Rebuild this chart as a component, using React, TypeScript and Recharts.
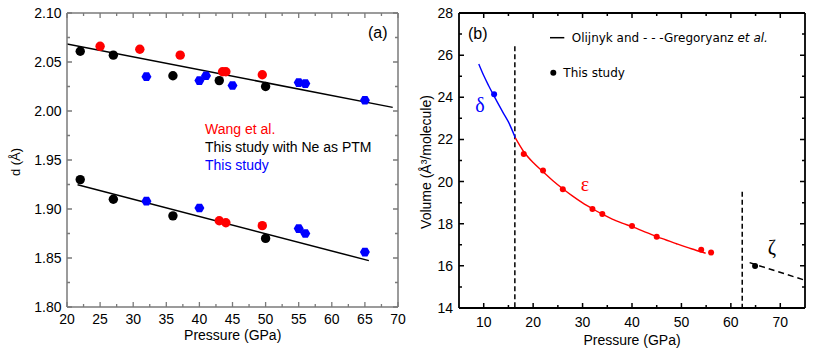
import { ComposedChart, Scatter, Line, XAxis, YAxis } from 'recharts';

// ---- panel (a): d-spacing vs pressure ----
const wangUpper = [
  { p: 25.0, d: 2.066 }, { p: 31.0, d: 2.063 }, { p: 37.1, d: 2.057 },
  { p: 43.5, d: 2.04 }, { p: 44.0, d: 2.04 }, { p: 49.5, d: 2.037 },
];
const wangLower = [{ p: 43.0, d: 1.888 }, { p: 44.0, d: 1.886 }, { p: 49.5, d: 1.883 }];
const neUpper = [
  { p: 22, d: 2.061 }, { p: 27, d: 2.057 }, { p: 36, d: 2.036 }, { p: 43, d: 2.031 }, { p: 50, d: 2.025 },
];
const neLower = [{ p: 22, d: 1.93 }, { p: 27, d: 1.91 }, { p: 36, d: 1.893 }, { p: 50, d: 1.87 }];
const studyUpper = [
  { p: 32, d: 2.035 }, { p: 40, d: 2.031 }, { p: 41, d: 2.036 }, { p: 45, d: 2.026 },
  { p: 55, d: 2.029 }, { p: 56, d: 2.028 }, { p: 65, d: 2.011 },
];
const studyLower = [
  { p: 32, d: 1.908 }, { p: 40, d: 1.901 }, { p: 55, d: 1.88 }, { p: 56, d: 1.875 }, { p: 65, d: 1.856 },
];
const fitUpper = [{ p: 20, d: 2.0684 }, { p: 69.2, d: 2.0037 }];
const fitLower = [{ p: 21.6, d: 1.9248 }, { p: 65.6, d: 1.8473 }];

const xTicksA = [20, 25, 30, 35, 40, 45, 50, 55, 60, 65, 70];
const xMinorA = [22.5, 27.5, 32.5, 37.5, 42.5, 47.5, 52.5, 57.5, 62.5, 67.5];
const yTicksA = [1.8, 1.85, 1.9, 1.95, 2.0, 2.05, 2.1];
const yMinorA = [1.825, 1.875, 1.925, 1.975, 2.025, 2.075];

// ---- panel (b): volume vs pressure ----
const deltaPoints = [{ p: 12.1, v: 24.15 }];
const epsPoints = [
  { p: 18.1, v: 21.31 }, { p: 22, v: 20.53 }, { p: 26, v: 19.63 }, { p: 32, v: 18.7 }, { p: 34, v: 18.46 },
  { p: 40, v: 17.89 }, { p: 45, v: 17.38 }, { p: 54, v: 16.77 }, { p: 56, v: 16.63 },
];
const zetaPoints = [{ p: 64.9, v: 15.99 }];
const deltaCurve = [
  { p: 9, v: 25.58 }, { p: 10, v: 25.03 }, { p: 11, v: 24.55 }, { p: 12, v: 24.1 },
  { p: 13, v: 23.66 }, { p: 14, v: 23.24 }, { p: 15, v: 22.83 }, { p: 16.4, v: 22.07 },
];
const epsCurve = [
  { p: 16.4, v: 22.07 }, { p: 18, v: 21.45 }, { p: 20, v: 20.9 }, { p: 22, v: 20.47 }, { p: 24, v: 20.04 },
  { p: 26, v: 19.66 }, { p: 28, v: 19.31 }, { p: 30, v: 18.99 }, { p: 32, v: 18.71 }, { p: 34, v: 18.45 },
  { p: 36, v: 18.22 }, { p: 38, v: 18.03 }, { p: 40, v: 17.86 }, { p: 43, v: 17.58 }, { p: 46, v: 17.3 },
  { p: 49, v: 17.05 }, { p: 52, v: 16.81 }, { p: 54.9, v: 16.6 },
];
const zetaLine = [{ p: 63.8, v: 16.15 }, { p: 75, v: 15.32 }];
const deltaEpsBoundary = [{ p: 16.3, v: 26.42 }, { p: 16.3, v: 14 }];
const epsZetaBoundary = [{ p: 62.3, v: 19.52 }, { p: 62.3, v: 14 }];

const xTicksB = [10, 20, 30, 40, 50, 60, 70];
const xMinorB = [15, 25, 35, 45, 55, 65];
const yTicksB = [14, 16, 18, 20, 22, 24, 26, 28];
const yMinorB = [15, 17, 19, 21, 23, 25, 27];

const RED = '#ff0000';
const BLUE = '#0000ff';
const GREY = '#7a7a7a';
const SANS = '"Liberation Sans", Arial, sans-serif';

type Side = 'bottom' | 'left';

// inward tick on the axis and on the opposite side of the frame, plus a label on major ticks
function AxisTick(props: any) {
  const { x, y, payload, side, gap, span, step, color, width, fmt } = props;
  const v = payload.value;
  const major = Math.abs(v / step - Math.round(v / step)) < 1e-6;
  const len = major ? 5 : 3;
  let d = '';
  if (side === 'bottom') {
    const ay = y - gap;
    d = `M${x},${ay}v${-len}M${x},${ay - span}v${len}`;
  } else {
    const ax = x + gap;
    d = `M${ax},${y}h${len}M${ax + span},${y}h${-len}`;
  }
  return (
    <g>
      <path d={d} stroke={color} strokeWidth={width} fill="none" />
      {major && (
        <text x={x} y={y} dy={side === 'bottom' ? '0.71em' : '0.36em'} textAnchor={side === 'bottom' ? 'middle' : 'end'}
          fontSize={14} fontFamily={SANS} fill="#000">
          {fmt(v)}
        </text>
      )}
    </g>
  );
}

const tickFor = (side: Side, gap: number, span: number, step: number, color: string, width: number,
  fmt = (v: number) => String(v)) =>
  (t: any) => <AxisTick {...t} side={side} gap={gap} span={span} step={step} color={color} width={width} fmt={fmt} />;

const dot = (fill: string, r: number) => (s: any) => <circle cx={s.cx} cy={s.cy} r={r} fill={fill} />;
const hex = (fill: string, r: number) => (s: any) => {
  const pts = [0, 1, 2, 3, 4, 5]
    .map((i) => {
      const a = (Math.PI / 3) * i;
      return `${s.cx + r * Math.cos(a)},${s.cy + r * Math.sin(a)}`;
    })
    .join(' ');
  return <polygon points={pts} fill={fill} />;
};

function PanelA() {
  const ax = { stroke: GREY, strokeWidth: 1.5 };
  const fmt = (v: number) => v.toFixed(2);
  return (
    <ComposedChart width={410} height={356} margin={{ top: 12, right: 11, bottom: 0, left: 0 }}>
      <XAxis xAxisId="x" type="number" dataKey="p" domain={[20, 70]} ticks={[...xTicksA, ...xMinorA]} interval={0}
        height={49} tickSize={0} tickMargin={7} tickLine={false} axisLine={ax} allowDataOverflow
        tick={tickFor('bottom', 7, 294, 5, GREY, 1.3)} />
      <XAxis xAxisId="xt" orientation="top" type="number" dataKey="p" domain={[20, 70]} height={1}
        tick={false} tickLine={false} axisLine={ax} allowDataOverflow />
      <YAxis yAxisId="y" type="number" dataKey="d" domain={[1.8, 2.1]} ticks={[...yTicksA, ...yMinorA]} interval={0}
        width={67} tickSize={0} tickMargin={5.5} tickLine={false} axisLine={ax} allowDataOverflow
        tick={tickFor('left', 5.5, 331, 0.05, GREY, 1.3, fmt)} />
      <YAxis yAxisId="yr" orientation="right" type="number" dataKey="d" domain={[1.8, 2.1]} width={1}
        tick={false} tickLine={false} axisLine={ax} allowDataOverflow />
      <Line xAxisId="x" yAxisId="y" data={fitUpper} dataKey="d" stroke="#000" strokeWidth={1.5} dot={false} isAnimationActive={false} />
      <Line xAxisId="x" yAxisId="y" data={fitLower} dataKey="d" stroke="#000" strokeWidth={1.5} dot={false} isAnimationActive={false} />
      <Scatter xAxisId="x" yAxisId="y" data={wangUpper} fill={RED} shape={dot(RED, 4.7)} isAnimationActive={false} />
      <Scatter xAxisId="x" yAxisId="y" data={wangLower} fill={RED} shape={dot(RED, 4.7)} isAnimationActive={false} />
      <Scatter xAxisId="x" yAxisId="y" data={neUpper} fill="#000" shape={dot('#000', 4.7)} isAnimationActive={false} />
      <Scatter xAxisId="x" yAxisId="y" data={neLower} fill="#000" shape={dot('#000', 4.7)} isAnimationActive={false} />
      <Scatter xAxisId="x" yAxisId="y" data={studyUpper} fill={BLUE} shape={hex(BLUE, 5)} isAnimationActive={false} />
      <Scatter xAxisId="x" yAxisId="y" data={studyLower} fill={BLUE} shape={hex(BLUE, 5)} isAnimationActive={false} />
    </ComposedChart>
  );
}

function PanelB() {
  const ax = { stroke: '#000', strokeWidth: 1.8 };
  return (
    <ComposedChart width={407} height={356} margin={{ top: 12, right: 11, bottom: 0, left: 0 }}>
      <XAxis xAxisId="x" type="number" dataKey="p" domain={[5, 75]} ticks={[...xTicksB, ...xMinorB]} interval={0}
        height={48} tickSize={0} tickMargin={9} tickLine={false} axisLine={ax} allowDataOverflow
        tick={tickFor('bottom', 9, 295, 10, '#000', 1.5)} />
      <XAxis xAxisId="xt" orientation="top" type="number" dataKey="p" domain={[5, 75]} height={1}
        tick={false} tickLine={false} axisLine={ax} allowDataOverflow />
      <YAxis yAxisId="y" type="number" dataKey="v" domain={[14, 28]} ticks={[...yTicksB, ...yMinorB]} interval={0}
        width={49} tickSize={0} tickMargin={6} tickLine={false} axisLine={ax} allowDataOverflow
        tick={tickFor('left', 6, 346, 2, '#000', 1.5)} />
      <YAxis yAxisId="yr" orientation="right" type="number" dataKey="v" domain={[14, 28]} width={1}
        tick={false} tickLine={false} axisLine={ax} allowDataOverflow />
      <Line xAxisId="x" yAxisId="y" data={deltaEpsBoundary} dataKey="v" stroke="#000" strokeWidth={1.5} strokeDasharray="5 3" dot={false} isAnimationActive={false} />
      <Line xAxisId="x" yAxisId="y" data={epsZetaBoundary} dataKey="v" stroke="#000" strokeWidth={1.5} strokeDasharray="5 3" dot={false} isAnimationActive={false} />
      <Line xAxisId="x" yAxisId="y" data={deltaCurve} dataKey="v" type="monotone" stroke={BLUE} strokeWidth={1.4} dot={false} isAnimationActive={false} />
      <Line xAxisId="x" yAxisId="y" data={epsCurve} dataKey="v" type="monotone" stroke={RED} strokeWidth={1.4} dot={false} isAnimationActive={false} />
      <Line xAxisId="x" yAxisId="y" data={zetaLine} dataKey="v" stroke="#000" strokeWidth={1.4} strokeDasharray="6 4" dot={false} isAnimationActive={false} />
      <Scatter xAxisId="x" yAxisId="y" data={deltaPoints} fill={BLUE} shape={dot(BLUE, 3)} isAnimationActive={false} />
      <Scatter xAxisId="x" yAxisId="y" data={epsPoints} fill={RED} shape={dot(RED, 3)} isAnimationActive={false} />
      <Scatter xAxisId="x" yAxisId="y" data={zetaPoints} fill="#000" shape={dot('#000', 3)} isAnimationActive={false} />
    </ComposedChart>
  );
}

export default function App() {
  return (
    <div style={{ position: 'absolute', left: 0, top: 0, width: 817, height: 356, background: '#fff' }}>
      <div style={{ position: 'absolute', left: 0, top: 0 }}>
        <PanelA />
      </div>
      <div style={{ position: 'absolute', left: 410, top: 0 }}>
        <PanelB />
      </div>
      <svg width={817} height={356} style={{ position: 'absolute', left: 0, top: 0, pointerEvents: 'none' }}>
        <g fontFamily={SANS} fontSize={14}>
          <text x={232.7} y={340} textAnchor="middle">Pressure (GPa)</text>
          <text x={632} y={345} textAnchor="middle">Pressure (GPa)</text>
          <text x={20} y={162} textAnchor="middle" fontSize={13} transform="rotate(-90 20 162)">d (Å)</text>
          <text x={431} y={162} textAnchor="middle" transform="rotate(-90 431 162)">Volume (Å³/molecule)</text>
          <text x={368} y={38} fontSize={16}>(a)</text>
          <text x={468} y={39} fontSize={16}>(b)</text>
          <text x={205} y={134.3} fill={RED}>Wang et al.</text>
          <text x={205} y={151.7} fill="#000">This study with Ne as PTM</text>
          <text x={205} y={170} fill={BLUE}>This study</text>
        </g>
        <g fontFamily='"DejaVu Sans", sans-serif' fontSize={12}>
          <line x1={550} y1={37.7} x2={564.3} y2={37.7} stroke="#000" strokeWidth={1.5} />
          <text x={571.7} y={42}>
            Olijnyk and - - -Gregoryanz <tspan fontStyle="italic">et al.</tspan>
          </text>
          <circle cx={553.3} cy={72.7} r={3} fill="#000" />
          <text x={563.3} y={77}>This study</text>
        </g>
        <g fontFamily='"Liberation Serif", "DejaVu Serif", serif' fontSize={20}>
          <text x={480} y={112} textAnchor="middle" fill={BLUE}>δ</text>
          <text x={585} y={191} textAnchor="middle" fill={RED}>ε</text>
          <text x={772} y={254} textAnchor="middle" fill="#000">ζ</text>
        </g>
      </svg>
    </div>
  );
}
